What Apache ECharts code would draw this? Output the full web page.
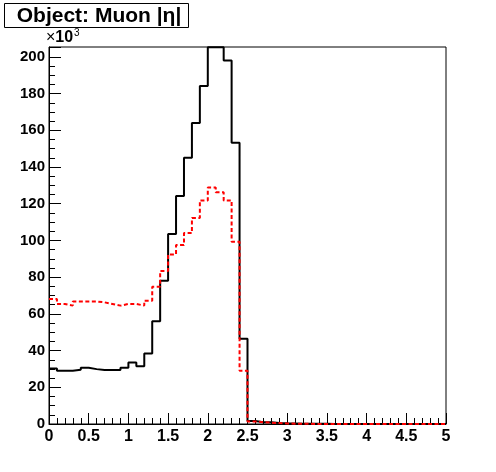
<!DOCTYPE html>
<html>
<head>
<meta charset="utf-8">
<script src="https://cdn.jsdelivr.net/npm/echarts@6/dist/echarts.min.js"></script>
<style>
  html, body { margin: 0; padding: 0; background: #fff; }
  #chart { width: 496px; height: 472px; }
</style>
</head>
<body>
<div id="chart"></div>
<script>
// histogram binning: 50 bins of |eta| from 0 to 5
var binLow = 0
var binWidth = 0.1
var xTicks = [0, 0.5, 1, 1.5, 2, 2.5, 3, 3.5, 4, 4.5, 5]

// bin contents, units of 10^3 (peak bins sit at the frame top)
var blackCounts = [
  30.3, 29.0, 29.0, 29.5, 30.6, 29.9, 29.4, 29.4, 29.4, 30.6,
  33.5, 31.5, 38.4, 56.0, 78.0, 103.5, 124.2, 145.1, 164.0, 184.2,
  205.3, 205.3, 198.0, 153.3, 46.5, 1.6, 1.0, 1.0, 0.6, 0.4,
  0.3, 0.2, 0.1, 0.1, 0.1, 0.0, 0.0, 0.0, 0.0, 0.0,
  0.0, 0.0, 0.0, 0.0, 0.0, 0.0, 0.0, 0.0, 0.0, 0.0
]
var redCounts = [
  68.1, 65.4, 64.5, 66.7, 66.7, 66.7, 66.3, 65.4, 64.5, 65.4,
  65.4, 64.5, 67.2, 74.8, 83.4, 92.4, 97.5, 104.0, 112.3, 121.8,
  128.8, 126.3, 121.8, 99.3, 29.0, 1.3, 1.0, 0.7, 0.5, 0.3,
  0.2, 0.1, 0.1, 0.0, 0.0, 0.0, 0.0, 0.0, 0.0, 0.0,
  0.0, 0.0, 0.0, 0.0, 0.0, 0.0, 0.0, 0.0, 0.0, 0.0
]

function toSteps (counts) {
  var pts = counts.map(function (v, i) {
    return [+(binLow + i * binWidth).toFixed(2), v]
  })
  pts.push([+(binLow + counts.length * binWidth).toFixed(2), counts[counts.length - 1]])
  return pts
}

var font = 'Liberation Sans, Arial, Helvetica, sans-serif'
var myChart = echarts.init(document.getElementById('chart'))

var option = {
  backgroundColor: '#ffffff',
  animation: false,
  grid: {
    left: 49,
    right: 50,
    top: 47,
    bottom: 48,
    show: true,
    borderColor: '#000',
    borderWidth: 1,
    backgroundColor: 'transparent'
  },
  graphic: [
    {
      type: 'rect',
      shape: { x: 4.5, y: 3.5, width: 184, height: 24 },
      style: { fill: '#fff', stroke: '#000', lineWidth: 1 }
    },
    {
      type: 'text',
      x: 99,
      y: 16,
      style: {
        text: 'Object: Muon |η|',
        fontFamily: font,
        fontWeight: 'bold',
        fontSize: 21,
        fill: '#000',
        align: 'center',
        verticalAlign: 'middle'
      }
    },
    {
      type: 'text',
      x: 46,
      y: 46,
      style: {
        text: '{m|×}{b|10}',
        verticalAlign: 'bottom',
        rich: {
          m: { fontFamily: font, fontSize: 16, fill: '#000' },
          b: { fontFamily: font, fontSize: 16, fontWeight: 'bold', fill: '#000' }
        }
      }
    },
    {
      type: 'text',
      x: 74,
      y: 28,
      style: {
        text: '3',
        fontFamily: font,
        fontSize: 10,
        fill: '#000',
        verticalAlign: 'top'
      }
    }
  ],
  xAxis: {
    type: 'value',
    min: 0,
    max: 5,
    interval: 0.5,
    axisLine: { lineStyle: { color: '#000', width: 1 } },
    axisTick: { inside: true, length: 11, lineStyle: { color: '#000' } },
    minorTick: { show: true, splitNumber: 5, length: 6, lineStyle: { color: '#000' } },
    splitLine: { show: false },
    axisLabel: {
      color: '#000',
      fontFamily: font,
      fontWeight: 'bold',
      fontSize: 16,
      margin: 5,
      formatter: function (v) {
        return xTicks.indexOf(+v.toFixed(2)) >= 0 ? String(+v.toFixed(2)) : ''
      }
    }
  },
  yAxis: {
    type: 'value',
    min: 0,
    max: 205.4,
    interval: 20,
    axisLine: { show: true, lineStyle: { color: '#000', width: 1 } },
    axisTick: { inside: true, length: 12, lineStyle: { color: '#000' } },
    minorTick: { show: true, splitNumber: 4, length: 6, lineStyle: { color: '#000' } },
    splitLine: { show: false },
    axisLabel: {
      color: '#000',
      fontFamily: font,
      fontWeight: 'bold',
      fontSize: 15,
      margin: 4,
      showMaxLabel: false,
      formatter: function (v) {
        return v % 20 === 0 ? String(v) : ''
      }
    }
  },
  series: [
    {
      name: 'black',
      type: 'line',
      step: 'end',
      showSymbol: false,
      clip: false,
      lineStyle: { color: '#000', width: 2 },
      data: toSteps(blackCounts)
    },
    {
      name: 'red',
      type: 'line',
      step: 'end',
      showSymbol: false,
      clip: true,
      lineStyle: { color: '#ff0000', width: 2, type: [4, 2.5] },
      data: toSteps(redCounts)
    }
  ]
}
myChart.setOption(option)
</script>
</body>
</html>
